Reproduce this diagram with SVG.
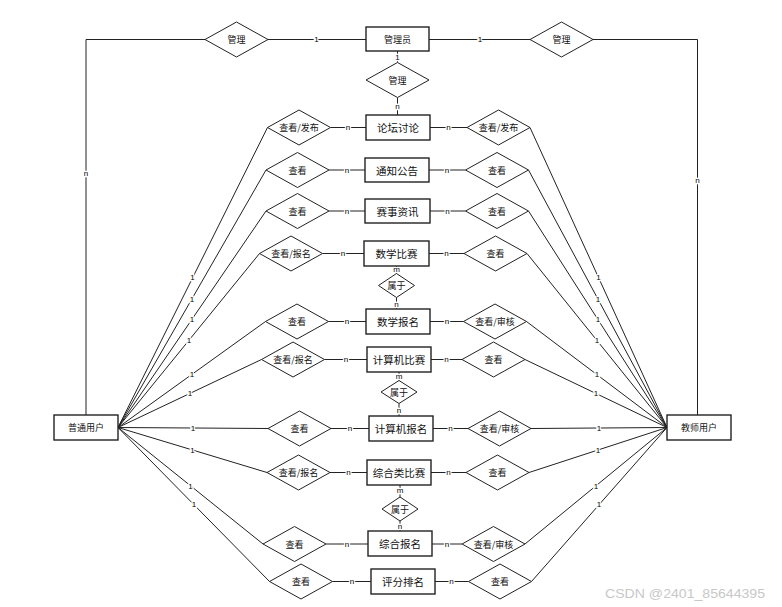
<svg xmlns="http://www.w3.org/2000/svg" width="782" height="607" viewBox="0 0 782 607">
<style>
.ent{fill:#fff;stroke:#222;stroke-width:1.4}
.rel{fill:#fff;stroke:#222;stroke-width:1}
.ln{fill:none;stroke:#222;stroke-width:1}
.t{font-family:"Noto Sans CJK SC","Liberation Sans",sans-serif;fill:#111;text-anchor:middle;dominant-baseline:central}
.big{font-size:10.5px}
.sm{font-size:9px}
.lb{font-family:"Liberation Sans",sans-serif;font-size:8px;fill:#000;text-anchor:middle;dominant-baseline:central;stroke:#fff;stroke-width:2.5;paint-order:stroke}
.wm{font-family:"Liberation Sans",sans-serif;font-size:13px;fill:#c8c8c8}
</style>
<rect width="782" height="607" fill="#fff"/>
<g id="connectors">
<polyline class="ln" points="205,39.5 86,39.5 86,415"/>
<line class="ln" x1="268" y1="39.5" x2="366" y2="39.5"/>
<line class="ln" x1="429" y1="39.5" x2="530" y2="39.5"/>
<polyline class="ln" points="593,39.5 697.5,39.5 697.5,415"/>
<line class="ln" x1="397.5" y1="51" x2="397.5" y2="62.5"/>
<line class="ln" x1="397.5" y1="97.5" x2="397.5" y2="115"/>
<line class="ln" x1="330.5" y1="127.5" x2="366" y2="127.5"/>
<line class="ln" x1="430" y1="127.5" x2="467" y2="127.5"/>
<line class="ln" x1="329" y1="170" x2="365" y2="170"/>
<line class="ln" x1="429" y1="170" x2="465.5" y2="170"/>
<line class="ln" x1="329" y1="211" x2="365" y2="211"/>
<line class="ln" x1="430" y1="211" x2="465.5" y2="211"/>
<line class="ln" x1="322.5" y1="253.5" x2="364" y2="253.5"/>
<line class="ln" x1="429" y1="253.5" x2="464" y2="253.5"/>
<line class="ln" x1="328.5" y1="321.5" x2="366" y2="321.5"/>
<line class="ln" x1="430" y1="321.5" x2="463.5" y2="321.5"/>
<line class="ln" x1="324.5" y1="359.5" x2="367" y2="359.5"/>
<line class="ln" x1="431" y1="359.5" x2="462" y2="359.5"/>
<line class="ln" x1="331" y1="428.5" x2="369" y2="428.5"/>
<line class="ln" x1="433" y1="428.5" x2="468" y2="428.5"/>
<line class="ln" x1="330" y1="472.5" x2="367" y2="472.5"/>
<line class="ln" x1="431" y1="472.5" x2="466" y2="472.5"/>
<line class="ln" x1="326" y1="544" x2="368" y2="544"/>
<line class="ln" x1="432" y1="544" x2="462" y2="544"/>
<line class="ln" x1="332.5" y1="581.5" x2="371" y2="581.5"/>
<line class="ln" x1="435" y1="581.5" x2="468.5" y2="581.5"/>
<line class="ln" x1="396.5" y1="266" x2="396.5" y2="273.5"/>
<line class="ln" x1="396.5" y1="297.5" x2="396.5" y2="309"/>
<line class="ln" x1="399" y1="372" x2="399" y2="380.5"/>
<line class="ln" x1="399" y1="403.5" x2="399" y2="416"/>
<line class="ln" x1="400" y1="485" x2="400" y2="497"/>
<line class="ln" x1="400" y1="521" x2="400" y2="531"/>
<line class="ln" x1="267.5" y1="127.5" x2="118" y2="427.5"/>
<line class="ln" x1="266" y1="170" x2="118" y2="427.5"/>
<line class="ln" x1="266" y1="211" x2="118" y2="427.5"/>
<line class="ln" x1="259.5" y1="253.5" x2="118" y2="427.5"/>
<line class="ln" x1="265.5" y1="321.5" x2="118" y2="427.5"/>
<line class="ln" x1="261.5" y1="359.5" x2="118" y2="427.5"/>
<line class="ln" x1="268" y1="428.5" x2="118" y2="427.5"/>
<line class="ln" x1="267" y1="472.5" x2="118" y2="427.5"/>
<line class="ln" x1="263" y1="544" x2="118" y2="427.5"/>
<line class="ln" x1="269.5" y1="581.5" x2="118" y2="427.5"/>
<line class="ln" x1="530" y1="127.5" x2="667" y2="427.5"/>
<line class="ln" x1="528.5" y1="170" x2="667" y2="427.5"/>
<line class="ln" x1="528.5" y1="211" x2="667" y2="427.5"/>
<line class="ln" x1="527" y1="253.5" x2="667" y2="427.5"/>
<line class="ln" x1="526.5" y1="321.5" x2="667" y2="427.5"/>
<line class="ln" x1="525" y1="359.5" x2="667" y2="427.5"/>
<line class="ln" x1="531" y1="428.5" x2="667" y2="427.5"/>
<line class="ln" x1="529" y1="472.5" x2="667" y2="427.5"/>
<line class="ln" x1="525" y1="544" x2="667" y2="427.5"/>
<line class="ln" x1="531.5" y1="581.5" x2="667" y2="427.5"/>
<text class="lb" x="86" y="173">n</text>
<text class="lb" x="316.5" y="39.5">1</text>
<text class="lb" x="480" y="39.5">1</text>
<text class="lb" x="697.5" y="180">n</text>
<text class="lb" x="397.5" y="57">1</text>
<text class="lb" x="397.5" y="106">n</text>
<text class="lb" x="348" y="127.5">n</text>
<text class="lb" x="448.5" y="127.5">n</text>
<text class="lb" x="347" y="170">n</text>
<text class="lb" x="447" y="170">n</text>
<text class="lb" x="347" y="211">n</text>
<text class="lb" x="447.5" y="211">n</text>
<text class="lb" x="343" y="253.5">n</text>
<text class="lb" x="446.5" y="253.5">n</text>
<text class="lb" x="347" y="321.5">n</text>
<text class="lb" x="447" y="321.5">n</text>
<text class="lb" x="346" y="359.5">n</text>
<text class="lb" x="446.5" y="359.5">n</text>
<text class="lb" x="350" y="428.5">n</text>
<text class="lb" x="450.5" y="428.5">n</text>
<text class="lb" x="348.5" y="472.5">n</text>
<text class="lb" x="448.5" y="472.5">n</text>
<text class="lb" x="347" y="544">n</text>
<text class="lb" x="447" y="544">n</text>
<text class="lb" x="352" y="581.5">n</text>
<text class="lb" x="451.5" y="581.5">n</text>
<text class="lb" x="396.5" y="269.5">m</text>
<text class="lb" x="396.5" y="304">n</text>
<text class="lb" x="399" y="376">m</text>
<text class="lb" x="399" y="410.5">n</text>
<text class="lb" x="400" y="490.5">m</text>
<text class="lb" x="400" y="526">n</text>
<text class="lb" x="192.5" y="277.5">1</text>
<text class="lb" x="192" y="299">1</text>
<text class="lb" x="192" y="319">1</text>
<text class="lb" x="189" y="340.5">1</text>
<text class="lb" x="192" y="374.5">1</text>
<text class="lb" x="190" y="393.5">1</text>
<text class="lb" x="193" y="428">1</text>
<text class="lb" x="192.5" y="450">1</text>
<text class="lb" x="190.5" y="486">1</text>
<text class="lb" x="194" y="504.5">1</text>
<text class="lb" x="598.5" y="277.5">1</text>
<text class="lb" x="598" y="299">1</text>
<text class="lb" x="598" y="319">1</text>
<text class="lb" x="597" y="340.5">1</text>
<text class="lb" x="597" y="374.5">1</text>
<text class="lb" x="596" y="393.5">1</text>
<text class="lb" x="599" y="428">1</text>
<text class="lb" x="598" y="450">1</text>
<text class="lb" x="596" y="486">1</text>
<text class="lb" x="599" y="504.5">1</text>
</g>
<g id="n-admin"><rect class="ent" x="366" y="27" width="63" height="24"/><text class="t sm" x="397.5" y="39.5">管理员</text></g>
<g id="n-user"><rect class="ent" x="54" y="415" width="64" height="25"/><text class="t sm" x="86" y="427.5">普通用户</text></g>
<g id="n-teacher"><rect class="ent" x="667" y="415" width="64" height="25"/><text class="t sm" x="699" y="427.5">教师用户</text></g>
<g id="n-forum"><rect class="ent" x="366" y="115" width="64" height="25"/><text class="t big" x="398" y="127.5">论坛讨论</text></g>
<g id="n-notice"><rect class="ent" x="365" y="158" width="64" height="24"/><text class="t big" x="397" y="170">通知公告</text></g>
<g id="n-news"><rect class="ent" x="365" y="199" width="65" height="24"/><text class="t big" x="397.5" y="211">赛事资讯</text></g>
<g id="n-mathcomp"><rect class="ent" x="364" y="241" width="65" height="25"/><text class="t big" x="396.5" y="253.5">数学比赛</text></g>
<g id="n-mathreg"><rect class="ent" x="366" y="309" width="64" height="25"/><text class="t big" x="398" y="321.5">数学报名</text></g>
<g id="n-cscomp"><rect class="ent" x="367" y="347" width="64" height="25"/><text class="t big" x="399" y="359.5">计算机比赛</text></g>
<g id="n-csreg"><rect class="ent" x="369" y="416" width="64" height="25"/><text class="t big" x="401" y="428.5">计算机报名</text></g>
<g id="n-gencomp"><rect class="ent" x="367" y="460" width="64" height="25"/><text class="t big" x="399" y="472.5">综合类比赛</text></g>
<g id="n-genreg"><rect class="ent" x="368" y="531" width="64" height="25"/><text class="t big" x="400" y="543.5">综合报名</text></g>
<g id="n-rank"><rect class="ent" x="371" y="569" width="64" height="25"/><text class="t big" x="403" y="581.5">评分排名</text></g>
<g id="r-manage-l"><polygon class="rel" points="205,39.5 236.5,22 268,39.5 236.5,57"/><text class="t sm" x="236.5" y="39.5">管理</text></g>
<g id="r-manage-r"><polygon class="rel" points="530,39.5 561.5,22 593,39.5 561.5,57"/><text class="t sm" x="561.5" y="39.5">管理</text></g>
<g id="r-manage-m"><polygon class="rel" points="366,80 397.5,62.5 429,80 397.5,97.5"/><text class="t sm" x="397.5" y="80">管理</text></g>
<g id="r-l1"><polygon class="rel" points="267.5,127.5 299,110 330.5,127.5 299,145"/><text class="t sm" x="299" y="127.5">查看/发布</text></g>
<g id="r-r1"><polygon class="rel" points="467,127.5 498.5,110 530,127.5 498.5,145"/><text class="t sm" x="498.5" y="127.5">查看/发布</text></g>
<g id="r-l2"><polygon class="rel" points="266,170 297.5,152.5 329,170 297.5,187.5"/><text class="t sm" x="297.5" y="170">查看</text></g>
<g id="r-r2"><polygon class="rel" points="465.5,170 497,152.5 528.5,170 497,187.5"/><text class="t sm" x="497" y="170">查看</text></g>
<g id="r-l3"><polygon class="rel" points="266,211 297.5,193.5 329,211 297.5,228.5"/><text class="t sm" x="297.5" y="211">查看</text></g>
<g id="r-r3"><polygon class="rel" points="465.5,211 497,193.5 528.5,211 497,228.5"/><text class="t sm" x="497" y="211">查看</text></g>
<g id="r-l4"><polygon class="rel" points="259.5,253.5 291,236 322.5,253.5 291,271"/><text class="t sm" x="291" y="253.5">查看/报名</text></g>
<g id="r-r4"><polygon class="rel" points="464,253.5 495.5,236 527,253.5 495.5,271"/><text class="t sm" x="495.5" y="253.5">查看</text></g>
<g id="r-belong1"><polygon class="rel" points="378.5,285.5 396.5,273.5 414.5,285.5 396.5,297.5"/><text class="t sm" x="396.5" y="285.5">属于</text></g>
<g id="r-l5"><polygon class="rel" points="265.5,321.5 297,304 328.5,321.5 297,339"/><text class="t sm" x="297" y="321.5">查看</text></g>
<g id="r-r5"><polygon class="rel" points="463.5,321.5 495,304 526.5,321.5 495,339"/><text class="t sm" x="495" y="321.5">查看/审核</text></g>
<g id="r-l6"><polygon class="rel" points="261.5,359.5 293,342 324.5,359.5 293,377"/><text class="t sm" x="293" y="359.5">查看/报名</text></g>
<g id="r-r6"><polygon class="rel" points="462,359.5 493.5,342 525,359.5 493.5,377"/><text class="t sm" x="493.5" y="359.5">查看</text></g>
<g id="r-belong2"><polygon class="rel" points="381,392 399,380.5 417,392 399,403.5"/><text class="t sm" x="399" y="392">属于</text></g>
<g id="r-l7"><polygon class="rel" points="268,428.5 299.5,411 331,428.5 299.5,446"/><text class="t sm" x="299.5" y="428.5">查看</text></g>
<g id="r-r7"><polygon class="rel" points="468,428.5 499.5,411 531,428.5 499.5,446"/><text class="t sm" x="499.5" y="428.5">查看/审核</text></g>
<g id="r-l8"><polygon class="rel" points="267,472.5 298.5,455 330,472.5 298.5,490"/><text class="t sm" x="298.5" y="472.5">查看/报名</text></g>
<g id="r-r8"><polygon class="rel" points="466,472.5 497.5,455 529,472.5 497.5,490"/><text class="t sm" x="497.5" y="472.5">查看</text></g>
<g id="r-belong3"><polygon class="rel" points="382,509 400,497 418,509 400,521"/><text class="t sm" x="400" y="509">属于</text></g>
<g id="r-l9"><polygon class="rel" points="263,544 294.5,526.5 326,544 294.5,561.5"/><text class="t sm" x="294.5" y="544">查看</text></g>
<g id="r-r9"><polygon class="rel" points="462,544 493.5,526.5 525,544 493.5,561.5"/><text class="t sm" x="493.5" y="544">查看/审核</text></g>
<g id="r-l10"><polygon class="rel" points="269.5,581.5 301,564 332.5,581.5 301,599"/><text class="t sm" x="301" y="581.5">查看</text></g>
<g id="r-r10"><polygon class="rel" points="468.5,581.5 500,564 531.5,581.5 500,599"/><text class="t sm" x="500" y="581.5">查看</text></g>
<text class="wm" x="605" y="597.5" textLength="160" lengthAdjust="spacingAndGlyphs">CSDN @2401_85644395</text>
</svg>
